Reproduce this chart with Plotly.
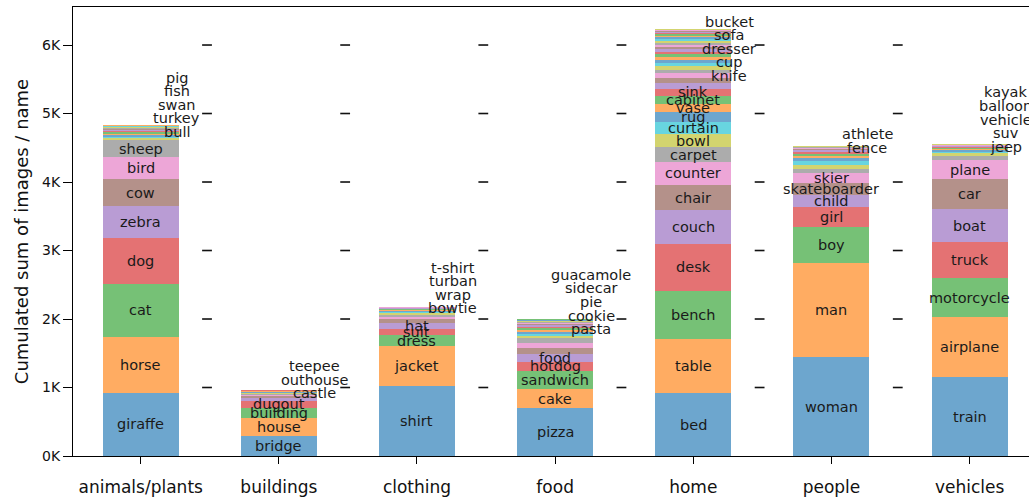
import plotly.graph_objects as go

CATEGORIES = ["animals/plants", "buildings", "clothing", "food", "home", "people", "vehicles"]

ANIMALS_NAMES = ["giraffe", "horse", "cat", "dog", "zebra", "cow", "bird", "sheep",
                 "", "", "", "", "", "bull", "turkey", "swan", "fish", "pig", "", "", "", ""]
ANIMALS_VALUES = [920, 818, 779, 672, 461, 390, 326, 243,
                  30, 24, 22, 20, 18, 16, 15, 14, 13, 12, 11, 10, 9, 8]

BUILDINGS_NAMES = ["bridge", "house", "building", "dugout", "", "", "", "", "",
                   "castle", "", "outhouse", "", "teepee", ""]
BUILDINGS_VALUES = [292, 267, 146, 98, 48, 20, 16, 14, 12, 11, 10, 9, 8, 7, 6]

CLOTHING_NAMES = ["shirt", "jacket", "dress", "suit", "hat", "", "", "", "", "", "", "", "", "",
                  "bowtie", "wrap", "turban", "t-shirt", ""]
CLOTHING_VALUES = [1022, 584, 156, 97, 87, 54, 34, 26, 22, 18, 16, 14, 12, 11, 9, 6, 5, 4, 3]

FOOD_NAMES = ["pizza", "cake", "sandwich", "hotdog", "food", "", "", "", "", "", "", "",
              "pasta", "cookie", "pie", "sidecar", "guacamole", "", "", "", "", "", ""]
FOOD_VALUES = [696, 277, 273, 122, 121, 83, 73, 78, 34, 30, 28, 26, 24, 22, 20, 18, 16, 14, 12, 10, 8, 6, 4]

HOME_NAMES = ["bed", "table", "bench", "desk", "couch", "chair", "counter", "carpet", "bowl",
              "curtain", "rug", "vase", "cabinet", "sink", "", "", "knife", "cup", "", "dresser",
              "", "sofa", "", "bucket", "", "", "", "", "", "", "", "", "", "", "", "", "", "", ""]
HOME_VALUES = [915, 788, 710, 682, 496, 365, 341, 209, 190, 184, 136, 126, 118, 98, 82, 73, 73,
               55, 50, 48, 45, 42, 40, 38, 36, 34, 32, 30, 28, 26, 24, 22, 20, 18, 16, 14, 12, 10, 8]

PEOPLE_NAMES = ["woman", "man", "boy", "girl", "child", "skateboarder", "skier", "", "", "",
                "", "", "", "", "", "", "", "fence", "athlete", "", ""]
PEOPLE_VALUES = [1441, 1372, 526, 292, 179, 171, 146, 63, 58, 63,
                 40, 35, 30, 26, 22, 18, 15, 12, 10, 7, 4]

VEHICLES_NAMES = ["train", "airplane", "motorcycle", "truck", "boat", "car", "plane", "", "",
                  "", "", "", "", "", "jeep", "suv", "vehicle", "balloon", "kayak"]
VEHICLES_VALUES = [1148, 877, 569, 535, 472, 443, 277, 59, 38,
                   24, 20, 18, 16, 14, 12, 10, 8, 6, 4]

# labels drawn beside the bar (stacked upward) instead of inside it
OUT_LABELS = [["bull", "turkey", "swan", "fish", "pig"],
              ["castle", "outhouse", "teepee"],
              ["bowtie", "wrap", "turban", "t-shirt"],
              ["pasta", "cookie", "pie", "sidecar", "guacamole"],
              ["knife", "cup", "dresser", "sofa", "bucket"],
              ["fence", "athlete"],
              ["jeep", "suv", "vehicle", "balloon", "kayak"]]

Y_TICKS = [0, 1000, 2000, 3000, 4000, 5000, 6000]
Y_TICK_TEXT = ["0K", "1K", "2K", "3K", "4K", "5K", "6K"]

ALL_NAMES = [ANIMALS_NAMES, BUILDINGS_NAMES, CLOTHING_NAMES, FOOD_NAMES, HOME_NAMES, PEOPLE_NAMES, VEHICLES_NAMES]
ALL_VALUES = [ANIMALS_VALUES, BUILDINGS_VALUES, CLOTHING_VALUES, FOOD_VALUES, HOME_VALUES, PEOPLE_VALUES, VEHICLES_VALUES]

TAB10 = [(31, 119, 180), (255, 127, 14), (44, 160, 44), (214, 39, 40), (148, 103, 189),
         (140, 86, 75), (227, 119, 194), (127, 127, 127), (188, 189, 34), (23, 190, 207)]
ALPHA = 0.65

BAR_W = 0.55
OUT_DX = 0.26
STEP = 198
FONT = "DejaVu Sans"

fig = go.Figure()

max_len = max(len(v) for v in ALL_VALUES)
for k in range(max_len):
    xs, ys = [], []
    for i, vals in enumerate(ALL_VALUES):
        if k < len(vals):
            xs.append(i)
            ys.append(vals[k])
    r, g, b = TAB10[k % 10]
    fig.add_trace(go.Bar(x=xs, y=ys, width=BAR_W,
                         marker=dict(color=f"rgba({r},{g},{b},{ALPHA})", line=dict(width=0)),
                         showlegend=False, hoverinfo="skip"))

annotations = []
for i, (names, vals) in enumerate(zip(ALL_NAMES, ALL_VALUES)):
    cum = 0
    prev_out = None
    for name, v in zip(names, vals):
        center = cum + v / 2
        cum += v
        if not name:
            continue
        if name in OUT_LABELS[i]:
            y = center if prev_out is None else max(center, prev_out + STEP)
            prev_out = y
            annotations.append(dict(x=i + OUT_DX, y=y, text=name, showarrow=False,
                                    xanchor="center", yanchor="middle",
                                    font=dict(family=FONT, size=14.5, color="#1a1a1a")))
        else:
            annotations.append(dict(x=i, y=center, text=name, showarrow=False,
                                    xanchor="center", yanchor="middle",
                                    font=dict(family=FONT, size=14.5, color="#1a1a1a")))

# small dash marks between the categories
dx, dy = [], []
for i in range(len(CATEGORIES)):
    for t in Y_TICKS[1:]:
        dx.append(i + 0.48)
        dy.append(t)
fig.add_trace(go.Scatter(x=dx, y=dy, mode="markers",
                         marker=dict(symbol="line-ew", size=7, line=dict(width=1.6, color="#111")),
                         showlegend=False, hoverinfo="skip", cliponaxis=True))

fig.update_layout(
    width=1029, height=497,
    margin=dict(l=73, r=0, t=7, b=41, autoexpand=False),
    barmode="stack",
    plot_bgcolor="white", paper_bgcolor="white",
    annotations=annotations,
    font=dict(family=FONT, color="#111"),
    xaxis=dict(range=[-0.49, 6.43], tickvals=list(range(len(CATEGORIES))), ticktext=CATEGORIES,
               showline=True, linecolor="black", linewidth=1.2, mirror=True,
               ticks="outside", ticklen=7, tickwidth=1.2, tickcolor="black",
               showgrid=False, zeroline=False, ticklabelstandoff=8, automargin=False,
               tickfont=dict(family=FONT, size=17, color="#111")),
    yaxis=dict(range=[0, 6555], tickvals=Y_TICKS, ticktext=Y_TICK_TEXT,
               showline=True, linecolor="black", linewidth=1.2,
               ticks="outside", ticklen=9, tickwidth=1.2, tickcolor="black",
               showgrid=False, zeroline=False, automargin=False,
               tickfont=dict(family=FONT, size=14, color="#111"),
               title=dict(text="Cumulated sum of images / name", standoff=8,
                          font=dict(family=FONT, size=18, color="#111"))),
)

# remove the default page margin so the figure fills the 1029x497 window exactly
fig.write_html("out.html",
               config={"displayModeBar": False},
               post_script="document.body.style.margin='0';document.body.style.overflow='hidden';")
